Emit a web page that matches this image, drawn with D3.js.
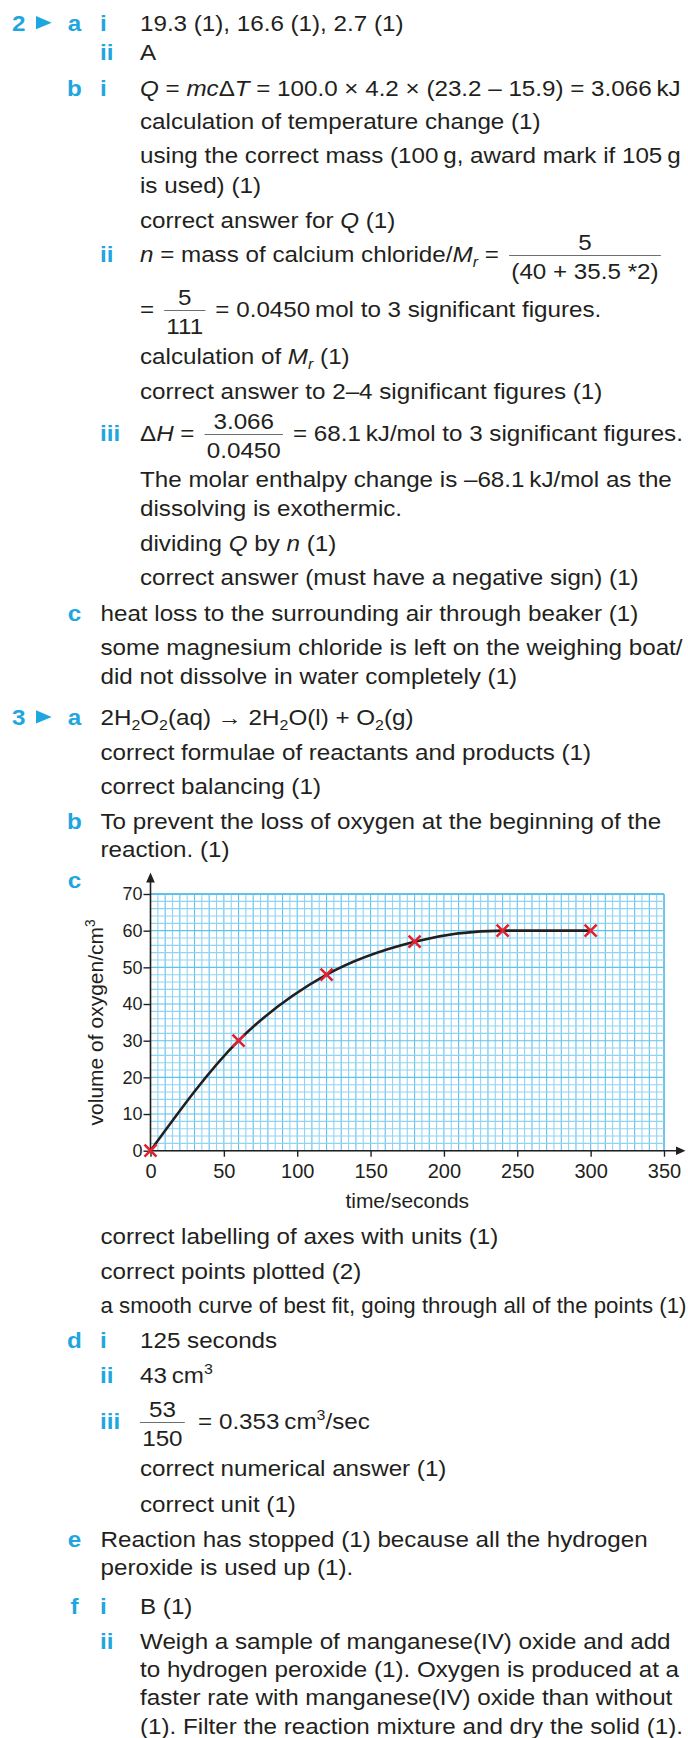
<!DOCTYPE html>
<html>
<head>
<meta charset="utf-8">
<script src="https://cdn.jsdelivr.net/npm/d3@7"></script>
<style>
    html, body { margin: 0; padding: 0; background: #fff; }
    svg { display: block; }
    text { font-family: "Liberation Sans", Arial, Helvetica, sans-serif; fill: #231f20; white-space: pre; }
</style>
</head>
<body>
<svg id="page" width="688" height="1738"></svg>
<script>
// chart data (question 3c)
var times = [0, 60, 120, 180, 240, 300];
var volumes = [0, 30, 48, 57, 60, 60];
var xTicks = [0, 50, 100, 150, 200, 250, 300, 350];
var yTicks = [0, 10, 20, 30, 40, 50, 60, 70];
var xTitle = "time/seconds";
var yTitle = "volume of oxygen/cm{^:3}";

// answer text; markup: {i:..} italic, {_:..} subscript, {_i:..} italic subscript, {^:..} superscript
// a two-item array inside t is a fraction [numerator, denominator]
var lines = [
    { y: 30.7, q: "2", l: "a", r: "i", t: ["19.3 (1), 16.6 (1), 2.7 (1)"] },
    { y: 59.5, r: "ii", t: ["A"] },
    { y: 96, l: "b", r: "i", t: ["{i:Q} = {i:mc}\u0394{i:T} = 100.0 \u00d7 4.2 \u00d7 (23.2 \u2013 15.9) = 3.066\u2009kJ"] },
    { y: 128.5, t: ["calculation of temperature change (1)"] },
    { y: 163, t: ["using the correct mass (100\u2009g, award mark if 105\u2009g"] },
    { y: 192.5, t: ["is used) (1)"] },
    { y: 227.5, t: ["correct answer for {i:Q} (1)"] },
    { y: 261.5, r: "ii", t: ["{i:n} = mass of calcium chloride/{i:M}{_i:r} = ", ["5", "(40 + 35.5 *2)"]] },
    { y: 316.5, t: ["= ", ["5", "111"], " = 0.0450\u2009mol to 3 significant figures."] },
    { y: 364, t: ["calculation of {i:M}{_i:r} (1)"] },
    { y: 399, t: ["correct answer to 2\u20134 significant figures (1)"] },
    { y: 440.5, r: "iii", t: ["\u0394{i:H} = ", ["3.066", "0.0450"], " = 68.1\u2009kJ/mol to 3 significant figures."] },
    { y: 486.5, t: ["The molar enthalpy change is \u201368.1\u2009kJ/mol as the"] },
    { y: 516, t: ["dissolving is exothermic."] },
    { y: 550.5, t: ["dividing {i:Q} by {i:n} (1)"] },
    { y: 585, t: ["correct answer (must have a negative sign) (1)"] },
    { y: 620.5, l: "c", lv: 2, t: ["heat loss to the surrounding air through beaker (1)"] },
    { y: 655, lv: 2, t: ["some magnesium chloride is left on the weighing boat/"] },
    { y: 684, lv: 2, t: ["did not dissolve in water completely (1)"] },
    { y: 725, q: "3", l: "a", lv: 2, t: ["2H{_:2}O{_:2}(aq) \u2192 2H{_:2}O(l) + O{_:2}(g)"] },
    { y: 759.5, lv: 2, t: ["correct formulae of reactants and products (1)"] },
    { y: 793.5, lv: 2, t: ["correct balancing (1)"] },
    { y: 828.5, l: "b", lv: 2, t: ["To prevent the loss of oxygen at the beginning of the"] },
    { y: 857, lv: 2, t: ["reaction. (1)"] },
    { y: 888, l: "c", lv: 2, t: [] },
    { y: 1244, lv: 2, t: ["correct labelling of axes with units (1)"] },
    { y: 1279, lv: 2, t: ["correct points plotted (2)"] },
    { y: 1313, lv: 2, t: ["a smooth curve of best fit, going through all of the points (1)"] },
    { y: 1347.5, l: "d", r: "i", t: ["125 seconds"] },
    { y: 1382.5, r: "ii", t: ["43\u2009cm{^:3}"] },
    { y: 1428.5, r: "iii", t: [["53", "150"], " = 0.353\u2009cm{^:3}/sec"] },
    { y: 1476, t: ["correct numerical answer (1)"] },
    { y: 1511.5, t: ["correct unit (1)"] },
    { y: 1546.5, l: "e", lv: 2, t: ["Reaction has stopped (1) because all the hydrogen"] },
    { y: 1575, lv: 2, t: ["peroxide is used up (1)."] },
    { y: 1613.5, l: "f", r: "i", t: ["B (1)"] },
    { y: 1648.5, r: "ii", t: ["Weigh a sample of manganese(IV) oxide and add"] },
    { y: 1676.5, t: ["to hydrogen peroxide (1). Oxygen is produced at a"] },
    { y: 1705, t: ["faster rate with manganese(IV) oxide than without"] },
    { y: 1734, t: ["(1). Filter the reaction mixture and dry the solid (1)."] }
];

var FS = 22;
var SX = 1.1;
var RIGHT = 687;
var BLUE = "#1ea6e0";
var INK = "#231f20";

var svg = d3.select("#page");

function richText(parent, str, x, size, anchor) {
    var t = parent.append("text")
        .attr("x", x)
        .attr("font-size", size)
        .attr("text-anchor", anchor || "start");
    var re = /\{(i|_|\^|_i):([^}]*)\}/g;
    var last = 0, shift = 0, m;

    function add(txt, opts) {
        if (!txt) return;
        var s = t.append("tspan").text(txt);
        var target = opts.shift || 0;
        if (target !== shift) {
            s.attr("dy", target - shift);
            shift = target;
        }
        if (opts.italic) s.attr("font-style", "italic");
        if (opts.small) s.attr("font-size", size * 0.66);
    }

    while ((m = re.exec(str))) {
        add(str.slice(last, m.index), {});
        if (m[1] === "i") add(m[2], { italic: true });
        else if (m[1] === "_") add(m[2], { shift: size * 0.24, small: true });
        else if (m[1] === "_i") add(m[2], { shift: size * 0.24, small: true, italic: true });
        else add(m[2], { shift: -size * 0.4, small: true });
        last = re.lastIndex;
    }
    add(str.slice(last), {});
    return t.node().getComputedTextLength();
}

function fraction(parent, num, den, x0) {
    var gap = 3;
    var n = parent.append("text").attr("font-size", FS).attr("text-anchor", "middle").attr("y", -11.5).text(num);
    var d = parent.append("text").attr("font-size", FS).attr("text-anchor", "middle").attr("y", 17.5).text(den);
    var w = Math.max(n.node().getComputedTextLength(), d.node().getComputedTextLength()) + 4;
    var cx = x0 + gap + w / 2;
    n.attr("x", cx);
    d.attr("x", cx);
    parent.append("line")
        .attr("x1", x0 + gap).attr("x2", x0 + gap + w)
        .attr("y1", -6).attr("y2", -6)
        .attr("stroke", "#6d6e71").attr("stroke-width", 1.2);
    return gap * 2 + w;
}

function label(txt, x, y, anchor) {
    var g = svg.append("g").attr("transform", "translate(" + x + "," + y + ") scale(" + SX + ",1)");
    g.append("text")
        .attr("font-size", FS)
        .attr("font-weight", "bold")
        .attr("text-anchor", anchor)
        .style("fill", BLUE)
        .text(txt);
}

lines.forEach(function(line) {
    if (line.q) {
        label(line.q, 12, line.y, "start");
        svg.append("path")
            .attr("d", "M36," + (line.y - 14.7) + "L51.7," + (line.y - 8) + "L36," + (line.y - 1.4) + "Z")
            .attr("fill", BLUE);
    }
    if (line.l) label(line.l, 74.5, line.y, "middle");
    if (line.r) label(line.r, 100, line.y, "start");

    var x0 = line.lv === 2 ? 100.5 : 140;
    var g = svg.append("g");
    var cursor = 0;
    line.t.forEach(function(piece) {
        if (Array.isArray(piece)) cursor += fraction(g, piece[0], piece[1], cursor - (cursor ? 0 : 3));
        else cursor += richText(g, piece, cursor, FS);
    });
    // squeeze a line a little if it would run past the page edge
    var sx = Math.min(SX, (RIGHT - x0) / Math.max(cursor, 1));
    g.attr("transform", "translate(" + x0 + "," + line.y + ") scale(" + sx + ",1)");
});

// ---- chart ----
var x = d3.scaleLinear().domain([0, 350]).range([150.5, 664]);
var y = d3.scaleLinear().domain([0, 70]).range([1150.7, 894]);

var chart = svg.append("g").attr("class", "chart");
var grid = chart.append("g").attr("class", "grid");

grid.selectAll("line.v")
    .data(d3.range(0, 351, 5))
    .enter().append("line")
    .attr("class", "v")
    .attr("x1", function(d) { return x(d); })
    .attr("x2", function(d) { return x(d); })
    .attr("y1", y(0)).attr("y2", y(70))
    .attr("stroke", function(d) { return d % 10 === 0 ? "#5ec2ec" : "#8fd4f2"; })
    .attr("stroke-width", function(d) { return d === 350 ? 1.8 : 1.1; });

grid.selectAll("line.h")
    .data(d3.range(0, 71, 2))
    .enter().append("line")
    .attr("class", "h")
    .attr("y1", function(d) { return y(d); })
    .attr("y2", function(d) { return y(d); })
    .attr("x1", x(0)).attr("x2", x(350))
    .attr("stroke", function(d) { return d % 10 === 0 ? "#5ec2ec" : "#8fd4f2"; })
    .attr("stroke-width", function(d) { return d === 70 ? 1.8 : 1.1; });

var xAxis = chart.append("g")
    .attr("transform", "translate(0," + y(0) + ")")
    .call(d3.axisBottom(x).tickValues(xTicks).tickSize(6).tickPadding(7).tickSizeOuter(0));
xAxis.select(".domain").remove();
xAxis.attr("font-size", 20).attr("font-family", null);
xAxis.selectAll("line").attr("stroke", INK).attr("stroke-width", 1.4);
xAxis.selectAll("text").style("fill", INK);

var yAxis = chart.append("g")
    .attr("transform", "translate(" + x(0) + ",0)")
    .call(d3.axisLeft(y).tickValues(yTicks).tickSize(7).tickPadding(1).tickSizeOuter(0));
yAxis.select(".domain").remove();
yAxis.attr("font-size", 18).attr("font-family", null);
yAxis.selectAll("line").attr("stroke", INK).attr("stroke-width", 1.4);
yAxis.selectAll("text").style("fill", INK);

// axis lines with arrow heads
chart.append("line")
    .attr("x1", x(0)).attr("x2", 680)
    .attr("y1", y(0)).attr("y2", y(0))
    .attr("stroke", INK).attr("stroke-width", 1.6);
chart.append("path")
    .attr("d", "M676," + (y(0) - 4.3) + "L685.5," + y(0) + "L676," + (y(0) + 4.3) + "Z")
    .attr("fill", INK);
chart.append("line")
    .attr("x1", x(0)).attr("x2", x(0))
    .attr("y1", y(0)).attr("y2", 878)
    .attr("stroke", INK).attr("stroke-width", 1.6);
chart.append("path")
    .attr("d", "M" + (x(0) - 4.3) + ",882.5L" + x(0) + ",872.5L" + (x(0) + 4.3) + ",882.5Z")
    .attr("fill", INK);

// axis titles
chart.append("text")
    .attr("x", (x(0) + x(350)) / 2)
    .attr("y", 1208)
    .attr("font-size", 21)
    .attr("text-anchor", "middle")
    .text(xTitle);

var yt = chart.append("g")
    .attr("transform", "translate(103," + (y(0) + y(70)) / 2 + ") rotate(-90)");
richText(yt, yTitle, 0, 21, "middle");

// curve of best fit
var points = times.map(function(t, i) { return [t, volumes[i]]; });
chart.append("path")
    .datum(points)
    .attr("fill", "none")
    .attr("stroke", INK)
    .attr("stroke-width", 2.6)
    .attr("d", d3.line()
        .x(function(d) { return x(d[0]); })
        .y(function(d) { return y(d[1]); })
        .curve(d3.curveMonotoneX));

// plotted points as red crosses
var s = 6;
chart.selectAll("path.cross")
    .data(points)
    .enter().append("path")
    .attr("class", "cross")
    .attr("d", function(d) {
        var cx = x(d[0]), cy = y(d[1]);
        return "M" + (cx - s) + "," + (cy - s) + "L" + (cx + s) + "," + (cy + s) +
            "M" + (cx - s) + "," + (cy + s) + "L" + (cx + s) + "," + (cy - s);
    })
    .attr("stroke", "#e5202e")
    .attr("stroke-width", 2.6)
    .attr("fill", "none");
</script>
</body>
</html>
